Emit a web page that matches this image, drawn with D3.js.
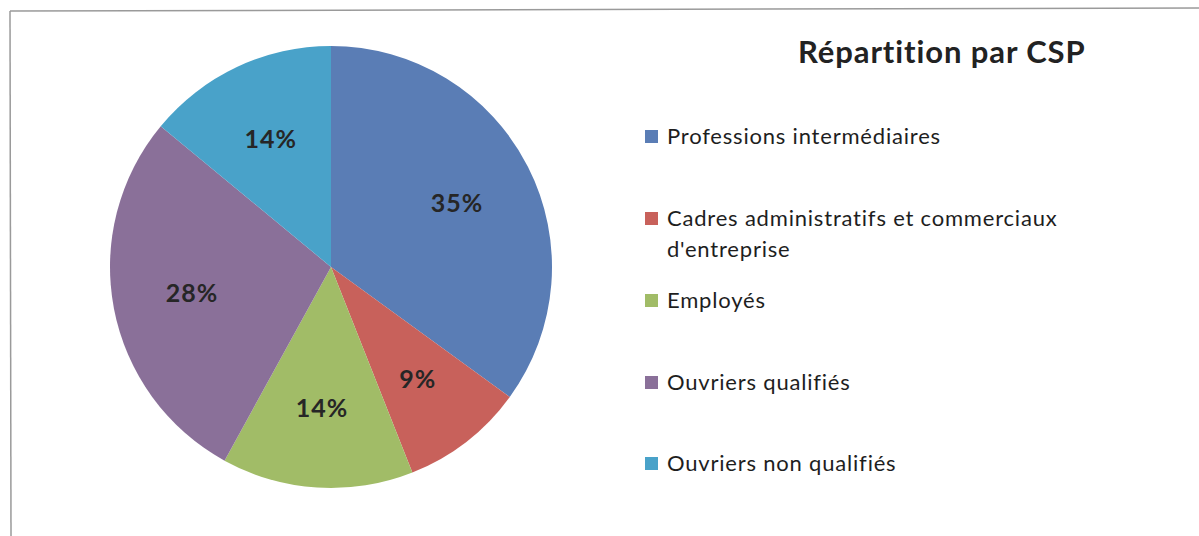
<!DOCTYPE html>
<html>
<head>
<meta charset="utf-8">
<script src="https://cdn.jsdelivr.net/npm/d3@7"></script>
<style>
  body { margin: 0; background: #fff; }
  svg { display: block; font-family: Lato, "Open Sans", sans-serif; }
</style>
</head>
<body>
<div id="chart"></div>
<script>
// data
var categories = [
    "Professions intermédiaires",
    "Cadres administratifs et commerciaux d'entreprise",
    "Employés",
    "Ouvriers qualifiés",
    "Ouvriers non qualifiés"
];
var values = [35, 9, 14, 28, 14];
var legendLines = [
    ["Professions intermédiaires"],
    ["Cadres administratifs et commerciaux", "d'entreprise"],
    ["Employés"],
    ["Ouvriers qualifiés"],
    ["Ouvriers non qualifiés"]
];
var colors = ["#5a7db5", "#c8615b", "#a1bc67", "#8a7099", "#49a2c9"];
var title = "Répartition par CSP";

var width = 1199;
var height = 536;

var svg = d3.select("#chart").append("svg")
    .attr("width", width)
    .attr("height", height);

// frame (only top and left edges visible in the scan)
svg.append("line")
    .attr("x1", 10).attr("y1", 11).attr("x2", width).attr("y2", 8)
    .attr("stroke", "#9a9a9a").attr("stroke-width", 1.5);
svg.append("line")
    .attr("x1", 10).attr("y1", 11).attr("x2", 11).attr("y2", height)
    .attr("stroke", "#9a9a9a").attr("stroke-width", 1.5);

var cx = 331, cy = 267, radius = 221;

var color = d3.scaleOrdinal().domain(categories).range(colors);

var pie = d3.pie().sort(null).value(function (d) { return d.value; });
var data = categories.map(function (c, i) { return { name: c, value: values[i] }; });
var total = d3.sum(values);

var arc = d3.arc().innerRadius(0).outerRadius(radius);
var labelArc = d3.arc().innerRadius(radius * 0.64).outerRadius(radius * 0.64);

var g = svg.append("g").attr("transform", "translate(" + cx + "," + cy + ")");

var slices = g.selectAll(".slice")
    .data(pie(data))
    .enter().append("g")
    .attr("class", "slice");

slices.append("path")
    .attr("d", arc)
    .attr("fill", function (d) { return color(d.data.name); });

slices.append("text")
    .attr("transform", function (d) { return "translate(" + labelArc.centroid(d) + ")"; })
    .attr("text-anchor", "middle")
    .attr("dy", "0.35em")
    .attr("font-size", 25)
    .attr("font-weight", "bold")
    .attr("letter-spacing", 1)
    .attr("fill", "#262626")
    .text(function (d) { return Math.round(d.data.value / total * 100) + "%"; });

// title
svg.append("text")
    .attr("x", 798)
    .attr("y", 63)
    .attr("font-size", 31)
    .attr("font-weight", "bold")
    .attr("letter-spacing", 0.9)
    .attr("fill", "#222")
    .text(title);

// legend
var legendX = 645;
var rowY = [136, 218, 300, 382, 463];
var legend = svg.selectAll(".legend")
    .data(categories)
    .enter().append("g")
    .attr("class", "legend")
    .attr("transform", function (d, i) { return "translate(" + legendX + "," + rowY[i] + ")"; });

legend.append("rect")
    .attr("x", 0)
    .attr("y", -6)
    .attr("width", 13)
    .attr("height", 13)
    .attr("fill", function (d) { return color(d); });

legend.append("text")
    .attr("x", 22)
    .attr("y", 0)
    .attr("font-size", 22)
    .attr("letter-spacing", 0.8)
    .attr("fill", "#1e1e1e")
    .selectAll("tspan")
    .data(function (d, i) { return legendLines[i]; })
    .enter().append("tspan")
    .attr("x", 22)
    .attr("dy", function (d, j) { return j === 0 ? "0.35em" : "1.4em"; })
    .text(function (d) { return d; });
</script>
</body>
</html>
